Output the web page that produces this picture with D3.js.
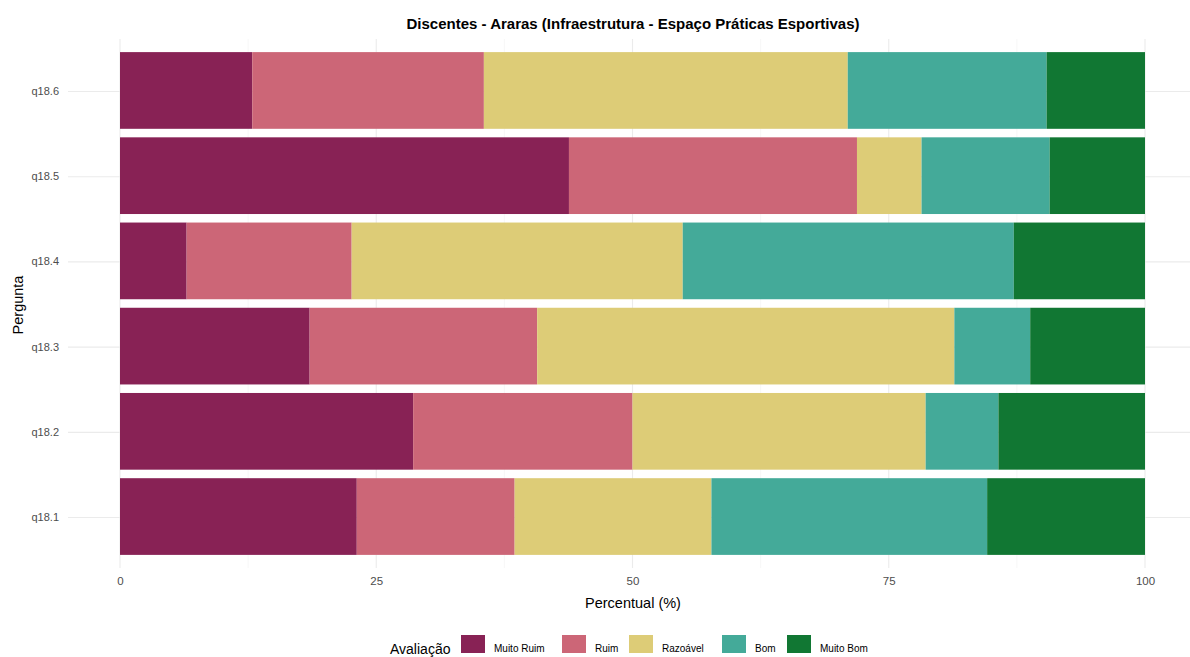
<!DOCTYPE html>
<html><head><meta charset="utf-8">
<script src="https://cdn.jsdelivr.net/npm/d3@7"></script>
<style>body{margin:0;background:#fff;} text{font-family:"Liberation Sans",Arial,sans-serif;}</style>
</head><body><svg id="c" width="1190" height="657"></svg>
<script>
const questions = ["q18.1","q18.2","q18.3","q18.4","q18.5","q18.6"];
const levels = ["Muito Ruim","Ruim","Razoável","Bom","Muito Bom"];
const colors = ["#882255","#CC6677","#DDCC77","#44AA99","#117733"];
const muitoRuim = [23.1, 28.6, 18.5, 6.5, 43.8, 12.9];
const ruim      = [15.4, 21.4, 22.2, 16.1, 28.1, 22.6];
const razoavel  = [19.2, 28.6, 40.7, 32.3, 6.3, 35.5];
const bom       = [26.9, 7.1, 7.4, 32.3, 12.5, 19.4];
const muitoBom  = [15.4, 14.3, 11.2, 12.8, 9.3, 9.6];
const xTicks = [0,25,50,75,100];
const xMinor = [12.5,37.5,62.5,87.5];

const series = [muitoRuim, ruim, razoavel, bom, muitoBom];
const rows = questions.map((q,i)=>{const o={q}; levels.forEach((l,j)=>o[l]=series[j][i]); return o;});
const stacked = d3.stack().keys(levels)(rows);

const svg = d3.select("#c");
const x = d3.scaleLinear().domain([0,100]).range([120,1145]);
const panelL = 68, panelR = 1196, panelT = 39, panelB = 568;
const y = d3.scaleBand().domain(questions.slice().reverse()).range([90.5-42.65, 516.5+42.65]).paddingInner(0.1).paddingOuter(0.05);
const color = d3.scaleOrdinal().domain(levels).range(colors);

// grid
const g = svg.append("g");
g.selectAll(".minor").data(xMinor).join("line")
  .attr("x1",d=>x(d)).attr("x2",d=>x(d)).attr("y1",panelT).attr("y2",panelB)
  .attr("stroke","#f2f2f2").attr("stroke-width",0.6);
g.selectAll(".major").data(xTicks).join("line")
  .attr("x1",d=>x(d)).attr("x2",d=>x(d)).attr("y1",panelT).attr("y2",panelB)
  .attr("stroke","#ebebeb").attr("stroke-width",1.1);
g.selectAll(".hy").data(questions).join("line")
  .attr("x1",panelL).attr("x2",panelR).attr("y1",d=>y(d)+y.bandwidth()/2+1).attr("y2",d=>y(d)+y.bandwidth()/2+1)
  .attr("stroke","#ebebeb").attr("stroke-width",1.1);

// bars
svg.append("g").selectAll("g").data(stacked).join("g")
  .attr("fill",d=>color(d.key))
  .selectAll("rect").data(d=>d).join("rect")
  .attr("x",d=>x(d[0])).attr("width",d=>x(d[1])-x(d[0]))
  .attr("y",d=>y(d.data.q)).attr("height",y.bandwidth());

// axes
const xa = svg.append("g").attr("transform",`translate(0,${panelB})`)
  .call(d3.axisBottom(x).tickValues(xTicks).tickSize(0).tickPadding(9));
xa.select(".domain").remove();
xa.selectAll("text").attr("fill","#4d4d4d").style("font-size","11.5px");
const ya = svg.append("g").attr("transform",`translate(${panelL},1)`)
  .call(d3.axisLeft(y).tickSize(0).tickPadding(9));
ya.select(".domain").remove();
ya.selectAll("text").attr("fill","#4d4d4d").style("font-size","11px");

// titles
svg.append("text").attr("x",633).attr("y",29).attr("text-anchor","middle")
  .style("font-size","15px").style("font-weight","bold").attr("fill","#000")
  .text("Discentes - Araras (Infraestrutura - Espaço Práticas Esportivas)");
svg.append("text").attr("x",633).attr("y",608).attr("text-anchor","middle")
  .style("font-size","14.5px").attr("fill","#000").text("Percentual (%)");
svg.append("text").attr("transform","translate(23,305) rotate(-90)").attr("text-anchor","middle")
  .style("font-size","14.5px").attr("fill","#000").text("Pergunta");

// legend
const leg = svg.append("g");
leg.append("text").attr("x",390).attr("y",654).style("font-size","14px").attr("fill","#000").text("Avaliação");
const keyX = [461,562,629,722,787];
levels.forEach((l,i)=>{
  leg.append("rect").attr("x",keyX[i]).attr("y",635).attr("width",24).attr("height",18).attr("fill",colors[i]);
  leg.append("text").attr("x",keyX[i]+33).attr("y",652).style("font-size","10px").attr("fill","#000").text(l);
});
</script></body></html>
